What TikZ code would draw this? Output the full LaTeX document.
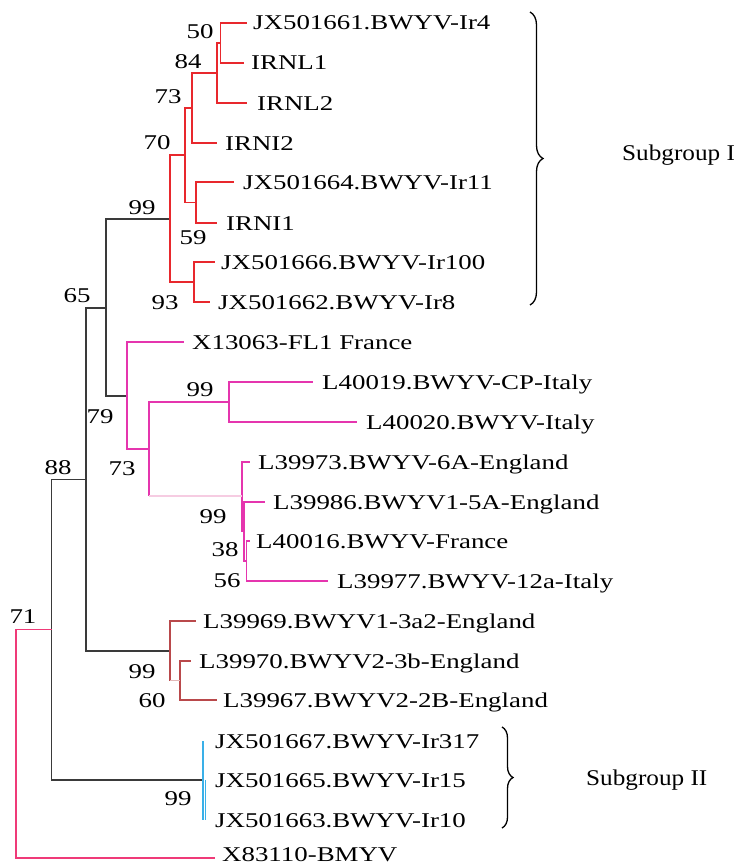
\documentclass[tikz,border=0pt]{standalone}
\usepackage{fontspec}
\setmainfont{Liberation Serif}
\usetikzlibrary{decorations.pathreplacing}
\definecolor{cred}{HTML}{E8282D}
\definecolor{cpink}{HTML}{E535AE}
\definecolor{cpinklight}{HTML}{F6CCE2}
\definecolor{croot}{HTML}{EF3A78}
\definecolor{cbrown}{HTML}{B9494B}
\definecolor{cbrownlight}{HTML}{E2B8B8}
\definecolor{cblue}{HTML}{3AB0E8}
\definecolor{cblack}{HTML}{3A3A3A}
\newcommand{\sx}[1]{\scalebox{1.28}[1]{#1}}
\begin{document}
\begin{tikzpicture}[x=1pt,y=-1pt,
  blk/.style={draw=cblack,line width=1.2pt},
  redl/.style={draw=cred,line width=1.2pt},
  pnk/.style={draw=cpink,line width=1.2pt},
  pnklight/.style={draw=cpinklight,line width=1.2pt},
  rootp/.style={draw=croot,line width=1.2pt},
  brn/.style={draw=cbrown,line width=1.2pt},
  brnlight/.style={draw=cbrownlight,line width=1.2pt},
  blu/.style={draw=cblue,line width=1.8pt},
  leaf/.style={anchor=west,inner sep=0pt,text height=14pt,text depth=0pt,font=\fontsize{21}{24}\selectfont},
  boot/.style={inner sep=0pt,text height=14pt,text depth=0pt,font=\fontsize{21}{24}\selectfont},
  subg/.style={anchor=west,inner sep=0pt,text height=15pt,text depth=0pt,font=\fontsize{22.5}{26}\selectfont},
  bracedec/.style={draw=black,line width=1.3pt,decorate,decoration={brace,amplitude=#1}}
]
\useasboundingbox (0,0) rectangle (741,867);

% ---------- internal nodes ----------
\coordinate (n50) at (220.5,43);
\coordinate (n84) at (217,73);
\coordinate (n73) at (192,108);
\coordinate (n59) at (196,202.5);
\coordinate (n70) at (185,155);
\coordinate (n93) at (194,282);
\coordinate (n99a) at (170,219);
\coordinate (n65) at (106,308);
\coordinate (n73p) at (127,396);
\coordinate (n73b) at (149,449);
\coordinate (n99i) at (229,402);
\coordinate (n99e) at (242,496);
\coordinate (n38) at (244,531);
\coordinate (n56) at (246.5,561);
\coordinate (n79) at (86,479.5);
\coordinate (n99b) at (170,651);
\coordinate (n60) at (180,680.5);
\coordinate (n88) at (51.5,629.5);
\coordinate (n99c) at (203,780);
\coordinate (n71) at (16,744.5);

% ---------- tips ----------
\coordinate (tJX4) at (247,23);
\coordinate (tIRNL1) at (244,63);
\coordinate (tIRNL2) at (247,103);
\coordinate (tIRNI2) at (217,143);
\coordinate (tJX11) at (234,182);
\coordinate (tIRNI1) at (217,223);
\coordinate (tJX100) at (215,262);
\coordinate (tJX8) at (210,302);
\coordinate (tX13063) at (184,342);
\coordinate (tL40019) at (313,382);
\coordinate (tL40020) at (357,422);
\coordinate (tL39973) at (250,462);
\coordinate (tL39986) at (265,502);
\coordinate (tL40016) at (249.5,541);
\coordinate (tL39977) at (328,581);
\coordinate (tL39969) at (196,621);
\coordinate (tL39970) at (191,661);
\coordinate (tL39967) at (217,700);
\coordinate (tJX317) at (203,741);
\coordinate (tJX15) at (205.5,780);
\coordinate (tJX10) at (205.5,820);
\coordinate (tX83110) at (215,858);

% ---------- branches ----------
\path[blk] (n65) |- (n99a) (n65) |- (n73p)
  (n79) |- (n65) (n79) |- (n99b)
  (n88) |- (n79) (n88) |- (n99c);
\path[rootp] (n71) |- (n88) (n71) |- (tX83110);
\path[redl] (n99a) |- (n70) (n99a) |- (n93)
  (n70) |- (n73) (n70) |- (n59)
  (n73) |- (n84) (n73) |- (tIRNI2)
  (n84) |- (n50) (n84) |- (tIRNL2)
  (n50) |- (tJX4) (n50) |- (tIRNL1)
  (n59) |- (tJX11) (n59) |- (tIRNI1)
  (n93) |- (tJX100) (n93) |- (tJX8);
\path[pnk] (n73p) |- (tX13063) (n73p) |- (n73b)
  (n73b) |- (n99i) (n73b) -- (n73b |- n99e)
  (n99i) |- (tL40019) (n99i) |- (tL40020)
  (n99e) |- (tL39973) (n99e) |- (n38)
  (n38) |- (tL39986) (n38) |- (n56)
  (n56) |- (tL40016) (n56) |- (tL39977);
\path[pnklight] (n73b |- n99e) -- (n99e);
\path[brn] (n99b) |- (tL39969) (n99b) -- (n99b |- n60)
  (n60) |- (tL39970) (n60) |- (tL39967);
\path[brnlight] (n99b |- n60) -- (n60);
\path[blu] (tJX317) -- (n99c |- tJX10) (tJX15) -- (tJX10);

% ---------- leaf labels ----------
\node[leaf] (lJX4) at (253,23) {\sx{JX501661.BWYV-Ir4}};
\node[leaf] (lIRNL1) at (251,63) {\sx{IRNL1}};
\node[leaf] (lIRNL2) at (257,103) {\sx{IRNL2}};
\node[leaf] (lIRNI2) at (225,143) {\sx{IRNI2}};
\node[leaf] (lJX11) at (243,182) {\sx{JX501664.BWYV-Ir11}};
\node[leaf] (lIRNI1) at (226,223) {\sx{IRNI1}};
\node[leaf] (lJX100) at (221,262) {\sx{JX501666.BWYV-Ir100}};
\node[leaf] (lJX8) at (218,302) {\sx{JX501662.BWYV-Ir8}};
\node[leaf] (lX13063) at (192,342) {\sx{X13063-FL1 France}};
\node[leaf] (lL40019) at (322,382) {\sx{L40019.BWYV-CP-Italy}};
\node[leaf] (lL40020) at (366,422) {\sx{L40020.BWYV-Italy}};
\node[leaf] (lL39973) at (258,462) {\sx{L39973.BWYV-6A-England}};
\node[leaf] (lL39986) at (273,502) {\sx{L39986.BWYV1-5A-England}};
\node[leaf] (lL40016) at (256,541) {\sx{L40016.BWYV-France}};
\node[leaf] (lL39977) at (337,581) {\sx{L39977.BWYV-12a-Italy}};
\node[leaf] (lL39969) at (203,621) {\sx{L39969.BWYV1-3a2-England}};
\node[leaf] (lL39970) at (199,661) {\sx{L39970.BWYV2-3b-England}};
\node[leaf] (lL39967) at (223,700) {\sx{L39967.BWYV2-2B-England}};
\node[leaf] (lJX317) at (215,741) {\sx{JX501667.BWYV-Ir317}};
\node[leaf] (lJX15) at (215,780) {\sx{JX501665.BWYV-Ir15}};
\node[leaf] (lJX10) at (215,820) {\sx{JX501663.BWYV-Ir10}};
\node[leaf] (lX83110) at (222,854) {\sx{X83110-BMYV}};

% ---------- bootstrap values ----------
\node[boot] (b50) at (200,31) {\sx{50}};
\node[boot] (b84) at (188,61) {\sx{84}};
\node[boot] (b73) at (168,96) {\sx{73}};
\node[boot] (b70) at (157,142) {\sx{70}};
\node[boot] (b99a) at (142,207) {\sx{99}};
\node[boot] (b59) at (193,237) {\sx{59}};
\node[boot] (b93) at (165,302) {\sx{93}};
\node[boot] (b65) at (77,295) {\sx{65}};
\node[boot] (b79) at (100,416) {\sx{79}};
\node[boot] (b88) at (58,467) {\sx{88}};
\node[boot] (b99i) at (200,389) {\sx{99}};
\node[boot] (b73p) at (122,468) {\sx{73}};
\node[boot] (b99e) at (213,516) {\sx{99}};
\node[boot] (b38) at (225,549) {\sx{38}};
\node[boot] (b56) at (227,580) {\sx{56}};
\node[boot] (b71) at (23,616) {\sx{71}};
\node[boot] (b99b) at (142,671) {\sx{99}};
\node[boot] (b60) at (152,700) {\sx{60}};
\node[boot] (b99c) at (178,798) {\sx{99}};

% ---------- subgroup braces ----------
\coordinate (br1a) at (530,12);
\coordinate (br1b) at (530,305);
\coordinate (br2a) at (502,727);
\coordinate (br2b) at (502,828);
\path[bracedec=13pt] (br1a) -- (br1b);
\path[bracedec=11pt] (br2a) -- (br2b);
\node[subg] (sg1) at (622,153) {\scalebox{1.12}[1]{Subgroup I}};
\node[subg] (sg2) at (586,778) {\scalebox{1.12}[1]{Subgroup II}};
\end{tikzpicture}
\end{document}
